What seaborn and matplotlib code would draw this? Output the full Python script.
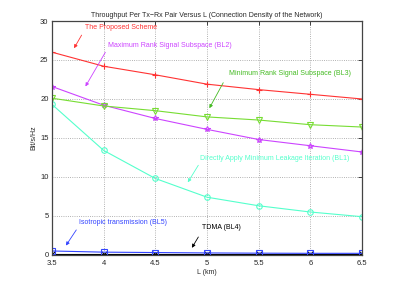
import pandas as pd
import matplotlib.pyplot as plt
import seaborn as sns

# values
L_km = [3.5, 4.0, 4.5, 5.0, 5.5, 6.0, 6.5]
proposed = [26.0, 24.2, 23.1, 21.9, 21.2, 20.6, 20.0]
bl2_max_rank = [21.6, 19.2, 17.5, 16.1, 14.8, 14.0, 13.2]
bl3_min_rank = [20.1, 19.1, 18.5, 17.7, 17.3, 16.7, 16.4]
bl1_min_leak = [19.3, 13.4, 9.8, 7.4, 6.3, 5.5, 4.9]
bl5_isotropic = [0.5, 0.35, 0.3, 0.25, 0.22, 0.2, 0.2]
bl4_tdma = [0.15, 0.15, 0.15, 0.15, 0.15, 0.15, 0.15]

series = {
    'proposed': (proposed, '#ff3333', '+'),
    'bl2': (bl2_max_rank, '#cc44ff', '*'),
    'bl3': (bl3_min_rank, '#77dd33', 'v'),
    'bl1': (bl1_min_leak, '#55ffcc', 'o'),
    'bl4': (bl4_tdma, '#000000', 'x'),
    'bl5': (bl5_isotropic, '#3344ff', 's'),
}

sns.set_style('white')
plt.rcParams['font.family'] = ['Liberation Sans', 'DejaVu Sans']

fig = plt.figure(figsize=(4, 2.88), dpi=100)
ax = fig.add_axes([0.13, 0.115, 0.775, 0.812])

for name, (vals, color, marker) in series.items():
    df = pd.DataFrame({'L': L_km, 'y': vals})
    sns.lineplot(data=df, x='L', y='y', ax=ax, color=color, marker=marker,
                 markersize=4, markerfacecolor='none', markeredgecolor=color,
                 markeredgewidth=0.8, linewidth=0.8)

ax.set_xlim(3.5, 6.5)
ax.set_ylim(0, 30)
ax.set_xticks(L_km)
ax.set_xticklabels(['3.5', '4', '4.5', '5', '5.5', '6', '6.5'])
ax.set_yticks([0, 5, 10, 15, 20, 25, 30])
ax.grid(True, linestyle=':', color='#999999', linewidth=0.6)
ax.tick_params(direction='in', labelsize=5.5, length=3, width=0.6,
               top=True, right=True)
ax.tick_params(axis='x', pad=3.5)
ax.tick_params(axis='y', pad=2.5)
for s in ax.spines.values():
    s.set_linewidth(0.9)
    s.set_color('#444444')

ax.set_title('Throughput Per Tx\u2212Rx Pair Versus L (Connection Density of the Network)',
             fontsize=5.0, pad=3)
ax.set_xlabel('L (km)', fontsize=5.0, labelpad=1.5)
ax.set_ylabel('Bit/s/Hz', fontsize=5.0, labelpad=2)

# text labels with arrows
notes = [
    ('The Proposed Scheme', '#ff3333', (3.82, 29.2), (3.80, 28.5), (3.70, 26.2)),
    ('Maximum Rank Signal Subspace (BL2)', '#cc44ff', (4.04, 26.9), (4.03, 26.3), (3.81, 21.3)),
    ('Minimum Rank Signal Subspace (BL3)', '#44bb22', (5.21, 23.3), (5.17, 22.4), (5.01, 18.5)),
    ('Directly Apply Minimum Leakage Iteration (BL1)', '#55ffcc', (4.93, 12.4), (4.93, 11.8), (4.80, 9.0)),
    ('Isotropic transmission (BL5)', '#3344ff', (3.76, 4.1), (3.75, 3.5), (3.62, 0.9)),
    ('TDMA (BL4)', '#000000', (4.95, 3.5), (4.93, 2.6), (4.84, 0.6)),
]
for label, color, txt, tail, head in notes:
    ax.text(txt[0], txt[1], label, color=color, fontsize=5.0, ha='left', va='center')
    ax.annotate('', xy=head, xytext=tail,
                arrowprops=dict(arrowstyle='-|>', color=color, lw=0.6,
                                mutation_scale=5))

plt.savefig('out.png', dpi=100)
plt.close()
